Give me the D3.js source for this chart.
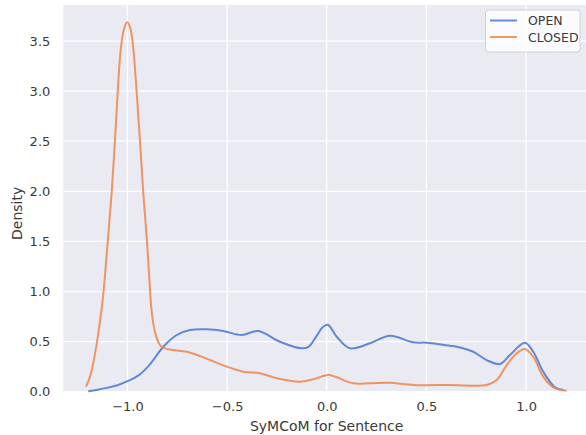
<!DOCTYPE html>
<html>
<head>
<meta charset="utf-8">
<script src="https://cdn.jsdelivr.net/npm/d3@7"></script>
<style>
  html, body { margin: 0; padding: 0; background: #ffffff; }
  svg { display: block; }
  text { font-family: "DejaVu Sans", sans-serif; }
</style>
</head>
<body>
<svg id="chart" width="586" height="435"></svg>
<script>
// ---- data ----
const seriesNames = ["OPEN", "CLOSED"];
const xTicks = [-1.0, -0.5, 0.0, 0.5, 1.0];
const yTicks = [0.0, 0.5, 1.0, 1.5, 2.0, 2.5, 3.0, 3.5];

const openX = [-1.197, -1.150, -1.104, -1.050, -1.000, -0.946, -0.895, -0.820, -0.753, -0.686, -0.603, -0.519, -0.427, -0.344, -0.235, -0.126, -0.090, -0.050, -0.020, 0.005, 0.050, 0.116, 0.217, 0.317, 0.434, 0.501, 0.618, 0.652, 0.735, 0.802, 0.869, 0.919, 0.994, 1.036, 1.086, 1.145, 1.187];
const openY = [0.005, 0.020, 0.038, 0.065, 0.105, 0.160, 0.255, 0.449, 0.566, 0.616, 0.623, 0.606, 0.566, 0.606, 0.499, 0.433, 0.450, 0.560, 0.645, 0.668, 0.549, 0.433, 0.483, 0.559, 0.493, 0.489, 0.459, 0.449, 0.399, 0.316, 0.276, 0.366, 0.489, 0.399, 0.200, 0.044, 0.017];

const closedX = [-1.208, -1.188, -1.172, -1.155, -1.138, -1.121, -1.108, -1.094, -1.079, -1.063, -1.049, -1.033, -1.016, -1.001, -0.986, -0.971, -0.954, -0.937, -0.921, -0.902, -0.891, -0.881, -0.872, -0.860, -0.837, -0.812, -0.770, -0.703, -0.636, -0.586, -0.502, -0.419, -0.335, -0.251, -0.134, -0.068, 0.008, 0.050, 0.133, 0.217, 0.317, 0.434, 0.618, 0.802, 0.853, 0.903, 0.953, 0.994, 1.036, 1.086, 1.136, 1.204];
const closedY = [0.050, 0.150, 0.283, 0.470, 0.700, 0.980, 1.280, 1.620, 2.000, 2.500, 2.994, 3.430, 3.630, 3.687, 3.630, 3.430, 2.994, 2.495, 1.996, 1.500, 1.150, 0.850, 0.700, 0.580, 0.466, 0.433, 0.416, 0.399, 0.355, 0.316, 0.250, 0.200, 0.184, 0.134, 0.100, 0.124, 0.167, 0.144, 0.084, 0.084, 0.090, 0.067, 0.067, 0.067, 0.117, 0.266, 0.383, 0.426, 0.349, 0.150, 0.044, 0.010];

const colors = ["#4878d0", "#ee854a"];

// ---- layout ----
const svg = d3.select("#chart");
const pLeft = 63.3, pTop = 5, pBottom = 391.7;
const x = d3.scaleLinear().domain([-1.322, 1.322]).range([pLeft, pLeft + 2.644 * 199.3]);
const y = d3.scaleLinear().domain([0, 3.86]).range([pBottom, pTop]);
const pRight = x.range()[1];

// background
svg.append("rect")
  .attr("x", pLeft).attr("y", pTop)
  .attr("width", pRight - pLeft).attr("height", pBottom - pTop)
  .attr("fill", "#eaeaf2");

// grid
const g = svg.append("g");
g.selectAll(".vg").data(xTicks).join("line")
  .attr("x1", d => x(d)).attr("x2", d => x(d))
  .attr("y1", pTop).attr("y2", pBottom)
  .attr("stroke", "#ffffff").attr("stroke-width", 1.25);
g.selectAll(".hg").data(yTicks).join("line")
  .attr("x1", pLeft).attr("x2", pRight)
  .attr("y1", d => y(d)).attr("y2", d => y(d))
  .attr("stroke", "#ffffff").attr("stroke-width", 1.25);

// axes (labels only, no tick marks, no domain)
const xAxis = d3.axisBottom(x).tickValues(xTicks).tickSize(0).tickPadding(10)
  .tickFormat(d => d3.format(".1f")(d).replace("-", "\u2212"));
const xa = svg.append("g").attr("transform", `translate(0,${pBottom})`).call(xAxis);
xa.select(".domain").remove();
xa.selectAll("text").attr("font-size", 13).attr("fill", "#3a3a3a")
  .attr("font-family", "DejaVu Sans, sans-serif");

const yAxis = d3.axisLeft(y).tickValues(yTicks).tickSize(0).tickPadding(13)
  .tickFormat(d3.format(".1f"));
const ya = svg.append("g").attr("transform", `translate(${pLeft},0)`).call(yAxis);
ya.select(".domain").remove();
ya.selectAll("text").attr("font-size", 13).attr("fill", "#3a3a3a")
  .attr("font-family", "DejaVu Sans, sans-serif");

// axis labels
svg.append("text").attr("x", (pLeft + 586) / 2 + 2).attr("y", 431)
  .attr("text-anchor", "middle").attr("font-size", 14).attr("fill", "#3a3a3a")
  .text("SyMCoM for Sentence");
svg.append("text")
  .attr("transform", `translate(22,${(pTop + pBottom) / 2 + 15}) rotate(-90)`)
  .attr("text-anchor", "middle").attr("font-size", 14).attr("fill", "#3a3a3a")
  .text("Density");

// curves
const line = d3.line().x(d => x(d[0])).y(d => y(d[1])).curve(d3.curveCatmullRom.alpha(0.5));
const series = [
  d3.zip(openX, openY),
  d3.zip(closedX, closedY)
];
svg.append("g").selectAll("path").data(series).join("path")
  .attr("d", line)
  .attr("fill", "none")
  .attr("stroke", (d, i) => colors[i])
  .attr("stroke-width", 2)
  .attr("stroke-opacity", 0.85)
  .attr("stroke-linejoin", "round");

// legend
const lg = svg.append("g");
lg.append("rect").attr("x", 485.5).attr("y", 10).attr("width", 94.5).attr("height", 42)
  .attr("rx", 3).attr("fill", "#ffffff").attr("fill-opacity", 0.8)
  .attr("stroke", "#d0d0d8").attr("stroke-width", 1);
seriesNames.forEach((name, i) => {
  const yy = 20.5 + i * 16.5;
  lg.append("line").attr("x1", 490).attr("x2", 517).attr("y1", yy).attr("y2", yy)
    .attr("stroke", colors[i]).attr("stroke-width", 2).attr("stroke-opacity", 0.85);
  lg.append("text").attr("x", 528).attr("y", yy).attr("dy", "0.36em")
    .attr("font-size", 12.5).attr("fill", "#3a3a3a").text(name);
});
</script>
</body>
</html>
